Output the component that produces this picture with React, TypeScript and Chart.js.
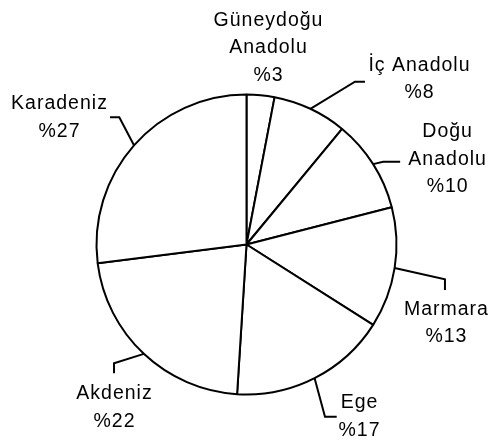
import React, { useEffect, useRef } from "react";
import { Chart, registerables } from "chart.js";

Chart.register(...registerables);

const regions: string[] = ["Güneydoğu Anadolu", "İç Anadolu", "Doğu Anadolu", "Marmara", "Ege", "Akdeniz", "Karadeniz"];
const shares: number[] = [3, 8, 10, 13, 17, 22, 27];
const labelLines: string[][] = [
  ["Güneydoğu", "Anadolu"],
  ["İç Anadolu"],
  ["Doğu", "Anadolu"],
  ["Marmara"],
  ["Ege"],
  ["Akdeniz"],
  ["Karadeniz"],
];

// Layout of outside labels relative to the slice's edge point (mid-angle on the rim)
type LabelLayout = { leader: [number, number][]; tx: number; ty: number };
const labelLayout: LabelLayout[] = [
  { leader: [], tx: 7.4, ty: -69.2 },
  { leader: [[44.6, -27.1], [54.6, -27.1]], tx: 108.6, ty: -38.1 },
  { leader: [[10, -2.4], [27, -2.4]], tx: 74, ty: -26.8 },
  { leader: [[50.3, 11.3], [50.3, 22]], tx: 51.3, ty: 47 },
  { leader: [[10.4, 38.5], [22.1, 38.5]], tx: 44.4, ty: 30.1 },
  { leader: [[-29.8, 9.4], [-29.8, 19.4]], tx: -29.8, ty: 45.4 },
  { leader: [[-14.7, -28], [-24, -28]], tx: -75, ty: -36.3 },
];

const LINE_H = 27.5;
const FONT = '19.5px "Liberation Sans", Arial, sans-serif';
const SPACING = 1;

const labelPlugin = {
  id: "outsideLabels",
  afterDraw(chart: any) {
    const ctx = chart.ctx as CanvasRenderingContext2D;
    const meta = chart.getDatasetMeta(0);
    ctx.save();
    meta.data.forEach((arc: any, i: number) => {
      const { x, y, outerRadius, startAngle, endAngle } = arc.getProps(
        ["x", "y", "outerRadius", "startAngle", "endAngle"],
        true
      );
      const mid = (startAngle + endAngle) / 2;
      const ex = x + Math.cos(mid) * outerRadius;
      const ey = y + Math.sin(mid) * outerRadius;
      const lay = labelLayout[i];
      if (lay.leader.length) {
        ctx.beginPath();
        ctx.strokeStyle = "#000";
        ctx.lineWidth = 2;
        ctx.moveTo(ex, ey);
        lay.leader.forEach(([dx, dy]) => ctx.lineTo(ex + dx, ey + dy));
        ctx.stroke();
      }
      const lines = [...labelLines[i], "%" + shares[i]];
      ctx.font = FONT;
      (ctx as any).letterSpacing = SPACING + "px";
      ctx.fillStyle = "#000";
      ctx.textAlign = "left";
      ctx.textBaseline = "alphabetic";
      lines.forEach((t, k) => {
        const w = ctx.measureText(t).width - SPACING;
        ctx.fillText(t, ex + lay.tx - w / 2, ey + lay.ty + k * LINE_H);
      });
    });
    ctx.restore();
  },
};

export default function App() {
  const ref = useRef<HTMLCanvasElement | null>(null);
  useEffect(() => {
    if (!ref.current) return;
    const chart = new Chart(ref.current, {
      type: "pie",
      data: {
        labels: regions,
        datasets: [
          {
            data: shares,
            backgroundColor: "#ffffff",
            borderColor: "#000000",
            borderWidth: 2,
          },
        ],
      },
      options: {
        responsive: false,
        animation: false,
        layout: { padding: { left: 95.5, right: 91.5, top: 93.5, bottom: 45.5 } },
        plugins: {
          legend: { display: false },
          tooltip: { enabled: false },
        },
      },
      plugins: [labelPlugin],
    });
    return () => chart.destroy();
  }, []);
  return (
    <div style={{ position: "fixed", left: 0, top: 0, width: 489, height: 441, background: "#fff" }}>
      <canvas ref={ref} width={489} height={441} style={{ width: 489, height: 441, display: "block" }} />
    </div>
  );
}
